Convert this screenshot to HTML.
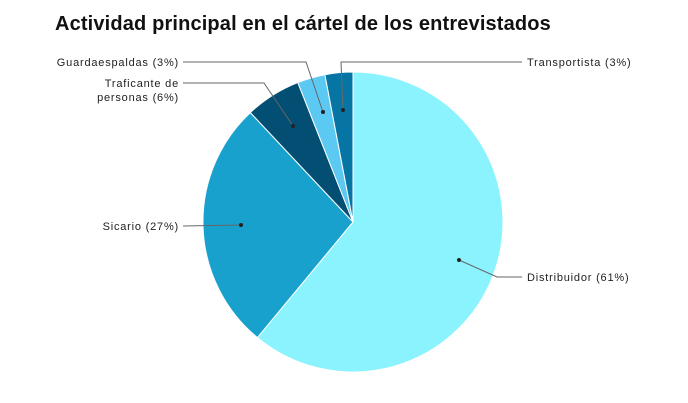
<!DOCTYPE html>
<html><head><meta charset="utf-8"><style>
body{margin:0;background:#fff;}
svg{display:block;font-family:"Liberation Sans",sans-serif;}
</style></head><body>
<svg width="688" height="403" viewBox="0 0 688 403">
<rect width="688" height="403" fill="#fff"/>
<text x="55" y="30" font-size="20" font-weight="bold" fill="#111" letter-spacing="0.15">Actividad principal en el cártel de los entrevistados</text>
<g stroke="#fff" stroke-width="1">
<path d="M353,222 L353,72 A150,150 0 1 1 257.4,337.6 Z" fill="#8af3fe"/>
<path d="M353,222 L257.4,337.6 A150,150 0 0 1 250.3,112.6 Z" fill="#19a1cd"/>
<path d="M353,222 L250.3,112.6 A150,150 0 0 1 297.8,82.5 Z" fill="#034e73"/>
<path d="M353,222 L297.8,82.5 A150,150 0 0 1 324.9,74.7 Z" fill="#5cc9f2"/>
<path d="M353,222 L324.9,74.7 A150,150 0 0 1 353,72 Z" fill="#0775a3"/>
</g>
<g stroke="#666" stroke-width="1" fill="none">
<polyline points="183,62 306,62 323,112"/>
<polyline points="183,83 264,83 293,126"/>
<polyline points="343,110 341,62 522,62"/>
<polyline points="183,226 241,225"/>
<polyline points="459,260 497,277 522,277"/>
</g>
<g fill="#222">
<circle cx="323" cy="112" r="2"/><circle cx="293" cy="126" r="2"/><circle cx="343" cy="110" r="2"/>
<circle cx="241" cy="225" r="2"/><circle cx="459" cy="260" r="2"/>
</g>
<g font-size="11" fill="#222" letter-spacing="0.8">
<text x="179" y="66" text-anchor="end">Guardaespaldas (3%)</text>
<text x="179" y="87" text-anchor="end">Traficante de</text>
<text x="179" y="101" text-anchor="end">personas (6%)</text>
<text x="179" y="230" text-anchor="end">Sicario (27%)</text>
<text x="527" y="66">Transportista (3%)</text>
<text x="527" y="281">Distribuidor (61%)</text>
</g>
</svg>
</body></html>
